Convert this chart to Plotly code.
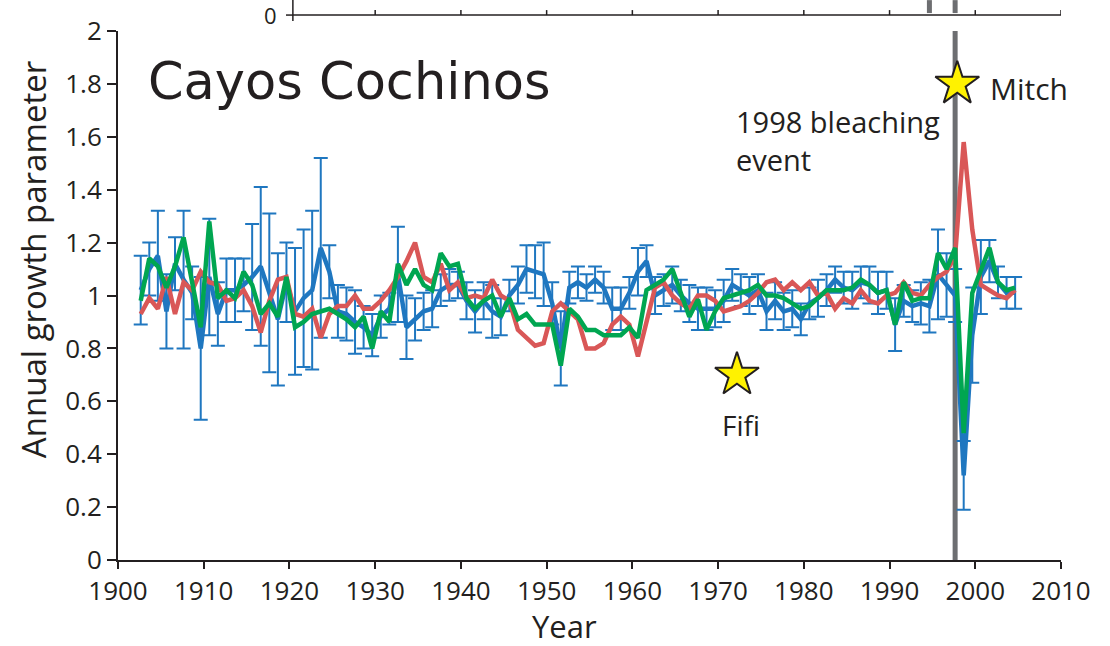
import plotly.graph_objects as go

years = list(range(1903, 2006))

blue = [1.02, 1.10, 1.15, 0.94, 1.12, 1.06, 1.01, 0.80, 1.07, 0.93,
        1.02, 1.02, 1.04, 1.07, 1.11, 1.01, 0.91, 1.05, 0.94, 0.99,
        1.02, 1.18, 1.09, 0.94, 0.93, 0.90, 0.88, 0.85, 0.92, 0.95,
        1.08, 0.88, 0.91, 0.94, 0.95, 1.02, 1.04, 1.04, 0.98, 0.94,
        0.98, 0.94, 0.92, 1.00, 1.04, 1.10, 1.09, 1.08, 0.97, 0.80,
        1.03, 1.05, 1.03, 1.06, 1.03, 0.95, 0.95, 1.01, 1.09, 1.13,
        1.00, 1.02, 1.04, 1.00, 0.97, 0.95, 0.95, 0.95, 0.98, 1.04,
        1.02, 1.00, 1.02, 0.94, 0.98, 0.94, 0.95, 0.91, 0.97, 0.99,
        1.02, 1.06, 1.03, 1.02, 1.05, 1.04, 1.01, 1.02, 0.89, 0.98,
        0.96, 0.97, 0.96, 1.08, 1.04, 1.00, 0.32, 0.85, 1.07, 1.13,
        1.05, 1.01, 1.01]

blue_err = [0.13, 0.10, 0.17, 0.14, 0.10, 0.26, 0.10, 0.27, 0.22, 0.12,
            0.12, 0.12, 0.10, 0.20, 0.30, 0.30, 0.25, 0.15, 0.24, 0.26,
            0.30, 0.34, 0.10, 0.10, 0.10, 0.12, 0.08, 0.08, 0.08, 0.06,
            0.18, 0.12, 0.08, 0.07, 0.07, 0.06, 0.06, 0.05, 0.07, 0.08,
            0.07, 0.10, 0.07, 0.06, 0.07, 0.09, 0.10, 0.12, 0.08, 0.14,
            0.06, 0.06, 0.05, 0.05, 0.06, 0.08, 0.08, 0.06, 0.09, 0.06,
            0.07, 0.06, 0.07, 0.06, 0.07, 0.08, 0.08, 0.07, 0.08, 0.06,
            0.06, 0.07, 0.06, 0.07, 0.07, 0.07, 0.07, 0.06, 0.06, 0.07,
            0.06, 0.05, 0.06, 0.07, 0.06, 0.07, 0.08, 0.07, 0.10, 0.06,
            0.06, 0.08, 0.10, 0.17, 0.12, 0.10, 0.13, 0.18, 0.14, 0.08,
            0.06, 0.06, 0.06]

red = [0.93, 0.99, 0.95, 1.07, 0.93, 1.05, 1.02, 1.09, 1.05, 1.04,
       0.98, 0.99, 1.02, 0.96, 0.86, 0.98, 1.06, 1.07, 0.93, 0.92,
       0.95, 0.84, 0.93, 0.96, 0.96, 1.00, 0.95, 0.95, 0.98, 1.02,
       1.07, 1.13, 1.20, 1.07, 1.05, 1.12, 1.02, 1.05, 0.99, 1.00,
       0.99, 1.06, 1.00, 0.98, 0.87, 0.84, 0.81, 0.82, 0.94, 0.97,
       0.94, 0.91, 0.80, 0.80, 0.82, 0.89, 0.92, 0.89, 0.77, 0.90,
       1.03, 1.05, 1.00, 0.97, 0.95, 1.00, 1.00, 0.98, 0.94, 0.95,
       0.96, 0.98, 1.01, 1.05, 1.06, 1.02, 1.05, 1.02, 1.05, 1.00,
       1.01, 0.95, 0.99, 0.97, 1.02, 0.98, 0.97, 1.00, 1.01, 1.05,
       1.01, 1.00, 1.04, 1.07, 1.09, 1.15, 1.58, 1.25, 1.04, 1.02,
       1.00, 0.99, 1.02]

green = [0.98, 1.14, 1.11, 1.03, 1.11, 1.22, 1.05, 0.88, 1.28, 0.99,
         1.02, 0.99, 1.09, 1.04, 0.93, 0.97, 0.92, 1.07, 0.88, 0.90,
         0.93, 0.94, 0.95, 0.93, 0.91, 0.88, 0.92, 0.80, 0.94, 0.90,
         1.12, 1.04, 1.10, 1.04, 1.02, 1.16, 1.11, 1.12, 0.99, 0.95,
         0.98, 1.00, 0.92, 0.99, 0.91, 0.93, 0.89, 0.89, 0.89, 0.735,
         0.95, 0.92, 0.87, 0.87, 0.85, 0.85, 0.85, 0.88, 0.84, 1.02,
         1.04, 1.06, 1.10, 1.01, 0.92, 0.985, 0.87, 0.94, 0.99, 1.00,
         1.01, 1.02, 1.04, 1.00, 1.00, 0.99, 0.97, 0.95, 0.96, 0.99,
         1.02, 1.02, 1.02, 1.03, 1.06, 1.04, 1.01, 1.02, 0.89, 1.05,
         0.98, 0.99, 0.99, 1.16, 1.10, 1.18, 0.48, 1.01, 1.09, 1.18,
         1.05, 1.02, 1.03]

storm_names = ["Fifi", "Mitch"]
storm_x = [1972.2, 1997.9]
storm_y = [0.70, 1.80]

bleaching_year = 1998
year_offset = -0.35   # points are drawn slightly before the year tick in the original
x_ticks = [1900, 1910, 1920, 1930, 1940, 1950, 1960, 1970, 1980, 1990, 2000, 2010]
y_ticks = [0, 0.2, 0.4, 0.6, 0.8, 1, 1.2, 1.4, 1.6, 1.8, 2]
y_tick_text = ["0", "0.2", "0.4", "0.6", "0.8", "1", "1.2", "1.4", "1.6", "1.8", "2"]

# fragment of the panel above
upper_axis_start = 1920.4
upper_ticks = [1930, 1940, 1950, 1960, 1970, 1980, 1990, 2000, 2010]
upper_bars = [1995, 1998]

BLUE = "#1f77c0"
RED = "#d95757"
GREEN = "#00a651"
TXT = "#231f20"
GRAY = "#6d6e71"
FONT = "Open Sans"

xs = [y + year_offset for y in years]

fig = go.Figure()

fig.add_trace(go.Scatter(
    x=xs, y=blue, mode="lines",
    line=dict(color=BLUE, width=4.5),
    error_y=dict(type="data", array=blue_err, visible=True,
                 color=BLUE, thickness=2, width=7),
    showlegend=False, hoverinfo="skip"))
fig.add_trace(go.Scatter(
    x=xs, y=red, mode="lines",
    line=dict(color=RED, width=4.5),
    showlegend=False, hoverinfo="skip"))
fig.add_trace(go.Scatter(
    x=xs, y=green, mode="lines",
    line=dict(color=GREEN, width=4.5),
    showlegend=False, hoverinfo="skip"))
fig.add_trace(go.Scatter(
    x=storm_x, y=storm_y, mode="markers",
    marker=dict(symbol="star", size=33, color="#fff200",
                line=dict(color=TXT, width=2)),
    showlegend=False, hoverinfo="skip"))

shapes = []
bx = bleaching_year + year_offset
shapes.append(dict(type="line", xref="x", yref="y", x0=bx, x1=bx,
                   y0=0, y1=2, line=dict(color=GRAY, width=5), layer="below"))
p = lambda py: (560 - py) / 531.0
q = lambda px: (px - 118) / 943.0
shapes.append(dict(type="line", xref="x", yref="paper", x0=upper_axis_start, x1=2010,
                   y0=p(13), y1=p(13), line=dict(color=TXT, width=1.5)))
shapes.append(dict(type="line", xref="x", yref="paper", x0=upper_axis_start, x1=upper_axis_start,
                   y0=p(19), y1=p(-2), line=dict(color=TXT, width=1.5)))
shapes.append(dict(type="line", xref="paper", yref="paper", x0=q(286), x1=q(293),
                   y0=p(13), y1=p(13), line=dict(color=TXT, width=1.5)))
for t in upper_ticks:
    shapes.append(dict(type="line", xref="x", yref="paper", x0=t, x1=t,
                       y0=p(13), y1=p(8), line=dict(color=TXT, width=1.5)))
for b in upper_bars:
    shapes.append(dict(type="line", xref="x", yref="paper", x0=b + year_offset, x1=b + year_offset,
                       y0=p(11), y1=p(-2), line=dict(color=GRAY, width=5)))

annotations = [
    dict(text="Cayos Cochinos", xref="paper", yref="paper", x=q(146), y=p(80),
         xanchor="left", yanchor="middle", showarrow=False,
         font=dict(family="DejaVu Sans", size=51, color=TXT)),
    dict(text="1998 bleaching<br>event", xref="paper", yref="paper", x=q(734),
         y=p(139), xanchor="left", yanchor="middle", align="left", showarrow=False,
         font=dict(family=FONT, size=29, color=TXT)),
    dict(text="Mitch", xref="paper", yref="paper", x=q(988), y=p(87),
         xanchor="left", yanchor="middle", showarrow=False,
         font=dict(family=FONT, size=30, color=TXT)),
    dict(text="Fifi", xref="paper", yref="paper", x=q(741), y=p(424),
         xanchor="center", yanchor="middle", showarrow=False,
         font=dict(family=FONT, size=28, color=TXT)),
    dict(text="0", xref="paper", yref="paper", x=q(279), y=p(13),
         xanchor="right", yanchor="middle", showarrow=False,
         font=dict(family=FONT, size=22, color=TXT)),
    dict(text="Annual growth parameter", xref="paper", yref="paper", x=q(33), y=p(259),
         xanchor="center", yanchor="middle", textangle=-90, showarrow=False,
         font=dict(family=FONT, size=33, color=TXT)),
    dict(text="Year", xref="paper", yref="paper", x=q(564), y=p(626),
         xanchor="center", yanchor="middle", showarrow=False,
         font=dict(family=FONT, size=31, color=TXT)),
]

fig.update_layout(
    width=1110, height=646,
    margin=dict(l=118, r=49, t=29, b=86),
    paper_bgcolor="white", plot_bgcolor="white",
    font=dict(family=FONT, color=TXT, size=28),
    shapes=shapes, annotations=annotations,
    xaxis=dict(range=[1900, 2010], tickvals=x_ticks, showgrid=False, zeroline=False,
               showline=True, linecolor=TXT, linewidth=2, ticks="outside",
               ticklen=7, tickwidth=2, tickcolor=TXT,
               tickfont=dict(family=FONT, size=26, color=TXT)),
    yaxis=dict(range=[0, 2], tickvals=y_ticks, ticktext=y_tick_text, showgrid=False,
               zeroline=False, showline=True, linecolor=TXT, linewidth=2,
               ticks="outside", ticklen=9, tickwidth=2, tickcolor=TXT,
               tickfont=dict(family=FONT, size=26, color=TXT)),
)

fig.write_html("out.html")
